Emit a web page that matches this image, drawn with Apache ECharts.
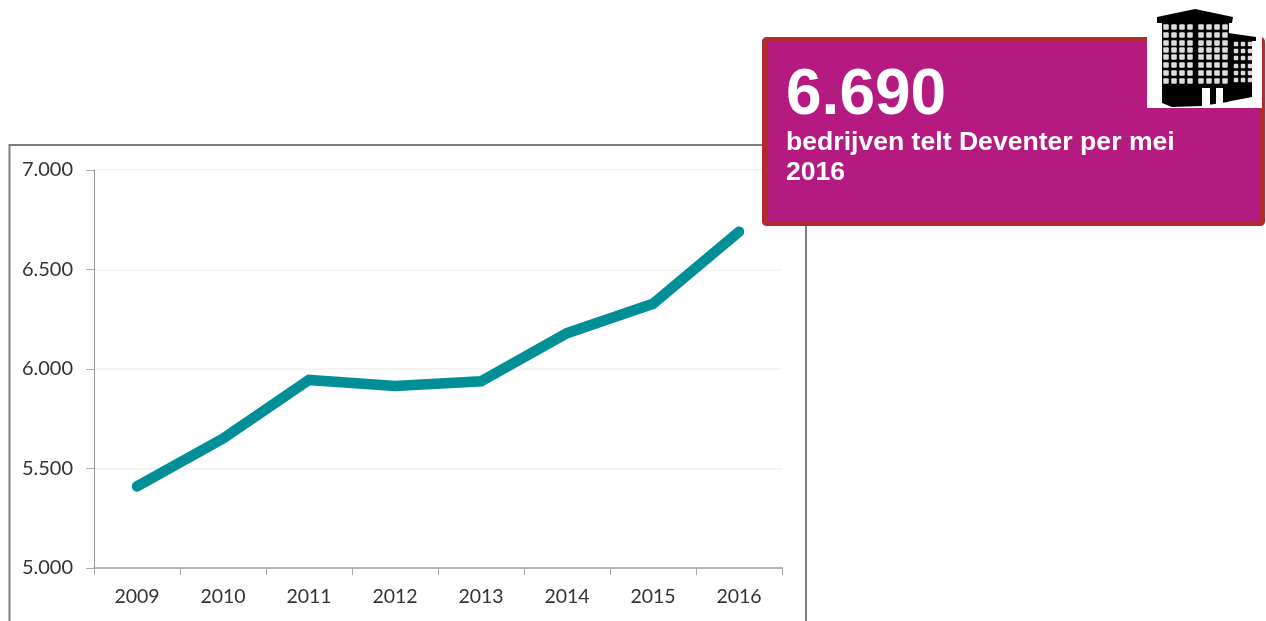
<!DOCTYPE html>
<html>
<head>
<meta charset="utf-8">
<title>Bedrijven Deventer</title>
<style>
html, body { margin: 0; padding: 0; background: #fff; }
#chart { width: 1266px; height: 621px; }
</style>
<script src="https://cdn.jsdelivr.net/npm/echarts@6/dist/echarts.min.js"></script>
</head>
<body>
<div id="chart"></div>
<script>
const years = ["2009", "2010", "2011", "2012", "2013", "2014", "2015", "2016"];
const bedrijven = [5410, 5650, 5945, 5915, 5938, 6180, 6328, 6690];
const headline = "6.690";
const subline = "bedrijven telt Deventer per mei\n2016";

// gebouw icoon, posities in schermpixels
const black = "#000";
function windows(cols, rows, w) {
	let out = [];
	cols.forEach((x) => {
		rows.forEach((y) => {
			out.push({
				type: "rect",
				shape: { x: x - w / 2, y: y - w / 2, width: w, height: w, r: 1 },
				style: { fill: "#dcdcdc" },
				z: 23,
			});
		});
	});
	return out;
}
const icon = [
	{ type: "rect", shape: { x: 1147, y: 36, width: 115, height: 72 }, style: { fill: "#fff" }, z: 21 },
	// zijvleugel
	{ type: "polygon", shape: { points: [[1228, 33], [1256, 37], [1256, 41], [1252, 41], [1252, 97], [1226, 102]] }, style: { fill: black }, z: 22 },
	// hoofdgebouw
	{ type: "polygon", shape: { points: [[1157, 17], [1195, 9], [1233, 17], [1232, 23], [1229, 23], [1228, 102], [1201, 106], [1172, 107], [1162, 103], [1162, 23], [1157, 23]] }, style: { fill: black }, z: 22 },
	// deuren
	{ type: "rect", shape: { x: 1202, y: 88, width: 8, height: 20 }, style: { fill: "#fff" }, z: 23 },
	{ type: "rect", shape: { x: 1216, y: 88, width: 7, height: 18 }, style: { fill: "#fff" }, z: 23 },
	...windows([1166, 1174, 1182, 1190], [27, 35, 43, 50, 57, 65, 73, 81], 5.5),
	...windows([1201, 1209, 1217, 1225], [27, 35, 43, 50, 57, 65, 73, 81], 5.5),
	...windows([1236, 1243, 1250], [44, 51, 58, 66, 73, 80], 4.5),
];

const chart = echarts.init(document.getElementById("chart"), null, { renderer: "canvas" });
chart.setOption({
	animation: false,
	backgroundColor: "#fff",
	grid: { left: 94, right: 484, top: 170, bottom: 53, containLabel: false },
	xAxis: {
		type: "category",
		data: years,
		boundaryGap: true,
		axisLine: { lineStyle: { color: "#b4b4b4", width: 2 } },
		axisTick: { show: true, length: 7, alignWithLabel: false, lineStyle: { color: "#a8a8a8", width: 1 } },
		axisLabel: { interval: 0, color: "#333333", fontFamily: "Lato", fontSize: 19.5, margin: 19 },
	},
	yAxis: {
		type: "value",
		min: 5000,
		max: 7000,
		interval: 500,
		axisLine: { show: true, lineStyle: { color: "#999999", width: 1 } },
		axisTick: { show: true, length: 8, lineStyle: { color: "#a8a8a8" } },
		axisLabel: {
			color: "#333333",
			fontFamily: "Lato",
			fontSize: 20,
			margin: 21,
			formatter: (v) => String(v).replace(/\B(?=(\d{3})+$)/g, "."),
		},
		splitLine: { show: true, lineStyle: { color: "#f5f5f5", width: 2 } },
	},
	series: [
		{
			type: "line",
			data: bedrijven,
			symbol: "none",
			smooth: false,
			z: 5,
			lineStyle: { color: "#008f96", width: 10.5, cap: "round", join: "miter" },
		},
	],
	graphic: [
		// kader om de grafiek, loopt onderaan door
		{
			type: "rect",
			silent: true,
			shape: { x: 9.5, y: 145, width: 796.5, height: 520 },
			style: { fill: "none", stroke: "#7f7f7f", lineWidth: 2 },
			z: 1,
		},
		{
			type: "rect",
			shape: { x: 764.5, y: 39.5, width: 498, height: 184, r: 2 },
			style: { fill: "#b41a80", stroke: "#b22a2e", lineWidth: 5 },
			z: 20,
		},
		{
			type: "text",
			x: 786,
			y: 64,
			style: { text: headline, fill: "#fff", font: "bold 64px 'Liberation Sans'" },
			z: 24,
		},
		{
			type: "text",
			x: 786,
			y: 128,
			style: { text: subline, fill: "#fff", font: "bold 26.6px 'Liberation Sans'", lineHeight: 30 },
			z: 24,
		},
		...icon,
	],
});
window.onresize = function () {
	chart.resize();
};
</script>
</body>
</html>
